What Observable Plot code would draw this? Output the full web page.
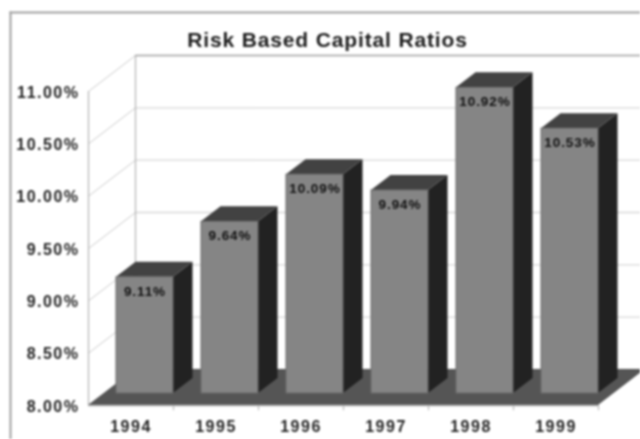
<!DOCTYPE html>
<html><head><meta charset="utf-8">
<style>html,body{margin:0;padding:0;background:#fff;overflow:hidden}
svg{display:block;filter:blur(0.8px)}
.ax text{letter-spacing:1.5px}
.lab text{letter-spacing:0.9px}
.ttl text{letter-spacing:0.85px}
</style>
<script src="https://cdn.jsdelivr.net/npm/d3@7"></script>
<script src="https://cdn.jsdelivr.net/npm/@observablehq/plot@0.6"></script>
</head><body><script>
const title = "Risk Based Capital Ratios";
const years = ["1994","1995","1996","1997","1998","1999"];
const ratios = [9.11,9.64,10.09,9.94,10.92,10.53];
const yTicks = [8,8.5,9,9.5,10,10.5,11];

// oblique projection: depth 0..1 shifts right in category units and up in value units
const DX = 47/85, DY = 36/104.67;
const zFront = 1/3, zBack = 3/4;
const barL = 0.145, barR = 0.815;
const px = (i,z)=> i + z*DX;
const py = (v,z)=> v + z*DY;
const bars = years.map((year,i)=>({year,i,v:ratios[i]}));
const base = yTicks[0];
const n = years.length;

const side = bars.flatMap(b=>[zFront,zBack].map(z=>({b:b.year,x:px(b.i+barR,z),y1:py(base,z),y2:py(b.v,z)})));
const top_ = bars.flatMap(b=>[zFront,zBack].map(z=>({b:b.year,y:py(b.v,z),x1:px(b.i+barL,z),x2:px(b.i+barR,z)})));
const floor = [0,1].map(z=>({y:py(base,z),x1:px(0,z),x2:px(n,z)}));
const wallLines = yTicks.flatMap(t=>[{t,x:px(0,0),y:py(t,0)},{t,x:px(0,1),y:py(t,1)}]);
const backLines = yTicks.flatMap(t=>[{t,x:px(0,1),y:py(t,1)},{t,x:px(n,1),y:py(t,1)}]);

const plot = Plot.plot({
  width:640,height:439,
  marginLeft:10,marginTop:12,marginRight:0,marginBottom:0,
  style:{fontFamily:"'Liberation Sans',Arial,sans-serif",background:"#fff",overflow:"hidden"},
  x:{type:"linear",domain:[0,n],range:[88,598],axis:null},
  y:{type:"linear",domain:[8,11],range:[405,91],axis:null},
  marks:[
    Plot.frame({anchor:"left",stroke:"#a0a0a0",strokeWidth:2}),
    Plot.frame({anchor:"top",stroke:"#a0a0a0",strokeWidth:2}),
    // walls
    Plot.line(backLines,{x:"x",y:"y",z:"t",stroke:"#d8d8d8",strokeWidth:1.3}),
    Plot.line(wallLines,{x:"x",y:"y",z:"t",stroke:"#cccccc",strokeWidth:1}),
    Plot.ruleX([px(0,0)],{y1:py(8,0),y2:py(11,0),stroke:"#b4b4b4",strokeWidth:1.2}),
    Plot.ruleX([px(0,1)],{y1:py(8,1),y2:py(11,1),stroke:"#b4b4b4",strokeWidth:1.2}),
    // top line of the wall is a bit stronger
    Plot.line(backLines.filter(d=>d.t===11),{x:"x",y:"y",stroke:"#a8a8a8",strokeWidth:1.4}),
    // floor
    Plot.areaX(floor,{y:"y",x1:"x1",x2:"x2",fill:"#555555"}),
    Plot.ruleY([py(8,0)],{x1:px(0,0),x2:px(n,0),stroke:"#b0b0b0",strokeWidth:1.5}),
    // ticks under the floor
    Plot.ruleX(d3.range(1,n+1),{y1:8,y2:7.95,stroke:"#b0b0b0",strokeWidth:1}),
    // bars
    Plot.areaY(side,{x:"x",y1:"y1",y2:"y2",z:"b",fill:"#222222"}),
    Plot.areaX(top_,{y:"y",x1:"x1",x2:"x2",z:"b",fill:"#424242"}),
    Plot.rect(bars,{x1:d=>px(d.i+barL,zFront),x2:d=>px(d.i+barR,zFront),y1:py(base,zFront),y2:d=>py(d.v,zFront),fill:"#858585",stroke:"#6a6a6a",strokeWidth:1}),
    // bar value labels
    Plot.text(bars,{className:"lab",x:d=>px(d.i+(barL+barR)/2,zFront),y:d=>py(d.v,zFront),dy:14,text:d=>d.v.toFixed(2)+"%",fontSize:13.5,fontWeight:600,fill:"#111"}),
    // axis labels
    Plot.text(yTicks,{className:"ax",x:0,y:d=>d,dx:-9,dy:1,textAnchor:"end",text:d=>d.toFixed(2)+"%",fontSize:16,fontWeight:"bold",fill:"#222"}),
    Plot.text(bars,{className:"ax",x:d=>d.i+0.5,y:8,dy:21,dx:0,text:"year",fontSize:16,fontWeight:"bold",fill:"#222"}),
    // title
    Plot.text([title],{className:"ttl",x:n/2,y:py(11,1),dy:-15,dx:-16,text:d=>d,fontSize:21,fontWeight:"bold",fill:"#1c1c1c"})
  ]
});
document.body.append(plot);
</script></body></html>
